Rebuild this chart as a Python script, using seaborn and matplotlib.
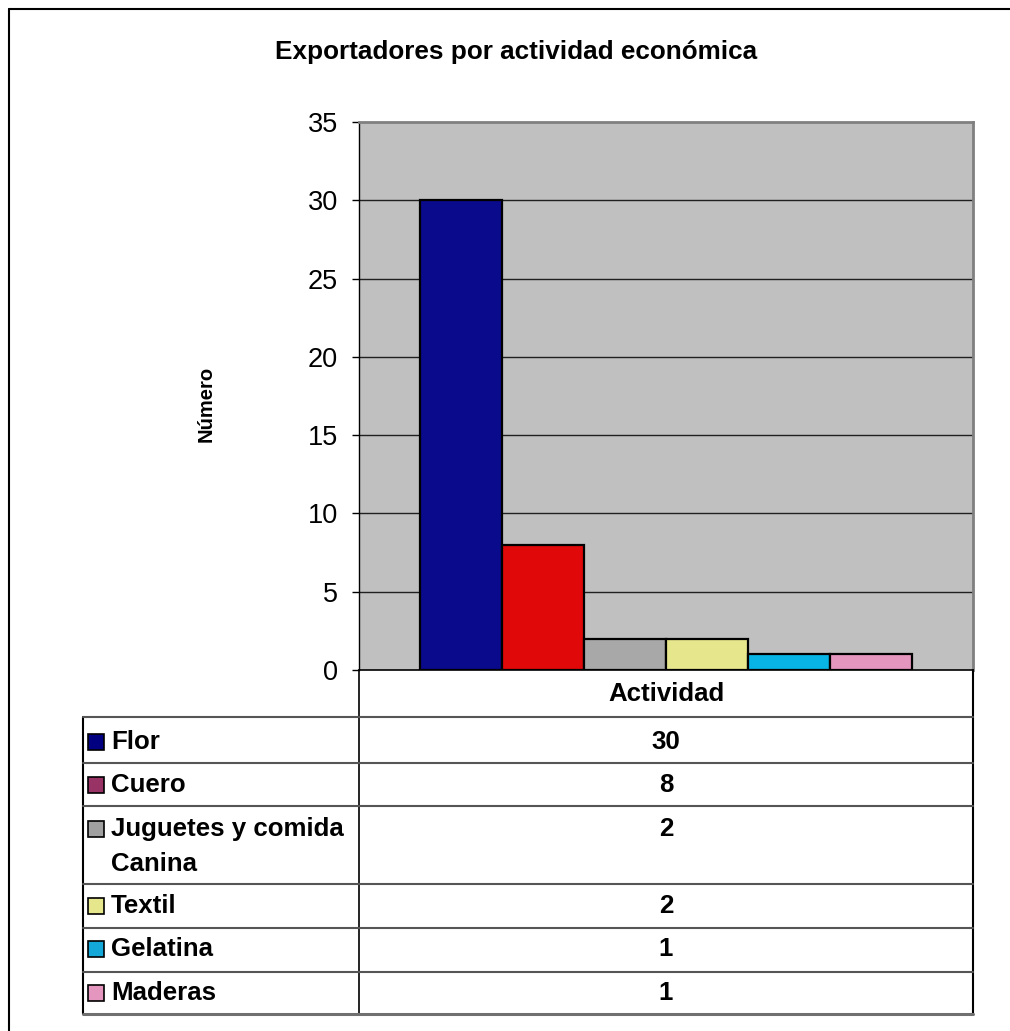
import matplotlib
matplotlib.use("Agg")
import matplotlib.pyplot as plt
from matplotlib.patches import Rectangle
import seaborn as sns
import pandas as pd

# ---- data ----
categories = ["Flor", "Cuero", "Juguetes y comida\nCanina", "Textil", "Gelatina", "Maderas"]
values = [30, 8, 2, 2, 1, 1]
group_label = "Actividad"
bar_colors = ["#0a0a8c", "#e00808", "#a8a8a8", "#e6e68c", "#08b4e6", "#e496be"]
legend_colors = ["#000080", "#993366", "#a0a0a0", "#e6e68c", "#14a8d8", "#e496be"]
y_ticks = [0, 5, 10, 15, 20, 25, 30, 35]
title = "Exportadores por actividad económica"
y_label = "Número"

sns.set_theme(style="white")
plt.rcParams["font.family"] = ["Liberation Sans", "DejaVu Sans"]
plt.rcParams["text.color"] = "black"
plt.rcParams["axes.labelcolor"] = "black"
plt.rcParams["xtick.color"] = "black"
plt.rcParams["ytick.color"] = "black"

W, H = 1010, 1031
fig = plt.figure(figsize=(W / 100, H / 100), dpi=100)
fig.patch.set_facecolor("white")

# plot area in pixel coords
L, T, R, B = 359, 122, 973, 670
ax = fig.add_axes([L / W, 1 - B / H, (R - L) / W, (B - T) / H])
ax.set_facecolor("#c0c0c0")

df = pd.DataFrame({"grp": [group_label] * len(categories), "cat": categories, "val": values})
sns.barplot(data=df, x="grp", y="val", hue="cat", hue_order=categories,
            palette=bar_colors, width=0.8, edgecolor="black", linewidth=1.6,
            legend=False, ax=ax, saturation=1, zorder=3)

ax.set_ylim(0, 35)
ax.set_xlim(-0.5, 0.5)
ax.set_yticks(y_ticks)
ax.set_yticklabels([str(t) for t in y_ticks], fontsize=19.5, color="black")
ax.tick_params(axis="y", length=5, width=1, color="black", pad=10, left=True, direction="out")
ax.set_xticks([])
ax.set_xlabel("")
ax.set_ylabel("")
for yv in y_ticks[1:-1]:
    ax.axhline(yv, color="#202020", lw=1, zorder=1)
for s in ["top", "right"]:
    ax.spines[s].set_color("#808080")
    ax.spines[s].set_linewidth(2)
ax.spines["left"].set_color("black")
ax.spines["left"].set_linewidth(1)
ax.spines["bottom"].set_color("black")
ax.spines["bottom"].set_linewidth(1.2)

# overlay in pixel coords for titles and data table
ov = fig.add_axes([0, 0, 1, 1], zorder=5)
ov.set_xlim(0, W)
ov.set_ylim(H, 0)
ov.axis("off")
ov.patch.set_alpha(0)

# outer frame (top and left)
ov.plot([9, 9], [9, H], color="black", lw=1.5)
ov.plot([9, W], [9, 9], color="black", lw=1.5)

ov.text(516, 52, title, ha="center", va="center", fontsize=18.8, fontweight="bold")
ov.text(206, 404, y_label, ha="center", va="center", fontsize=14.5, fontweight="bold", rotation=90)

# table grid
row_lines = [717, 763, 806, 884, 928, 972]
TL, TB = 83, 1014
ov.plot([L, L], [B, TB], color="black", lw=1.2)
ov.plot([R, R], [B, TB], color="black", lw=1.5)
ov.plot([TL, TL], [row_lines[0], TB], color="black", lw=1.5)
for y in row_lines:
    ov.plot([TL, R], [y, y], color="#555555", lw=1.5)
ov.plot([TL, R], [TB, TB], color="#707070", lw=2.2)

FS = 18.6
ov.text((L + R) / 2, 694, group_label, ha="center", va="center", fontsize=FS, fontweight="bold")

text_y = [742, 785, 829, 906, 949, 993]
for cat, val, col, ty in zip(categories, values, legend_colors, text_y):
    ov.add_patch(Rectangle((88, ty - 8), 16, 16, facecolor=col, edgecolor="black", lw=1.2))
    lines = cat.split("\n")
    for k, ln in enumerate(lines):
        ov.text(111, ty + 35 * k, ln, ha="left", va="center", fontsize=FS, fontweight="bold")
    ov.text((L + R) / 2, ty, str(val), ha="center", va="center", fontsize=FS, fontweight="bold")

fig.savefig("out.png", dpi=100)
